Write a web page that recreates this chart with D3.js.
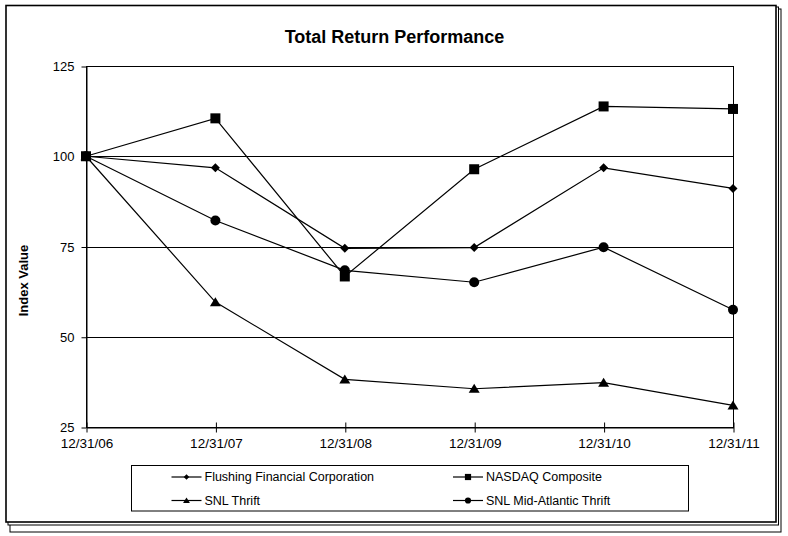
<!DOCTYPE html>
<html>
<head>
<meta charset="utf-8">
<script src="https://cdn.jsdelivr.net/npm/d3@7"></script>
<style>
  html, body { margin: 0; padding: 0; background: #fff; }
  svg { display: block; }
  text { font-family: "Liberation Sans", Arial, sans-serif; fill: #000; }
</style>
</head>
<body>
<svg id="chart" width="788" height="536"></svg>
<script>
const dates = ["12/31/06", "12/31/07", "12/31/08", "12/31/09", "12/31/10", "12/31/11"];
const flushing = [100, 96.8, 74.5, 74.7, 96.8, 91.1];
const nasdaq = [100, 110.5, 66.7, 96.4, 113.8, 113.1];
const snlThrift = [100, 59.6, 38.2, 35.6, 37.3, 31.0];
const snlMidAtlantic = [100, 82.2, 68.4, 65.1, 74.8, 57.5];
const yTicks = [25, 50, 75, 100, 125];
const seriesNames = ["Flushing Financial Corporation", "NASDAQ Composite", "SNL Thrift", "SNL Mid-Atlantic Thrift"];
const seriesMarkers = ["diamond", "square", "triangle", "circle"];
const title = "Total Return Performance";
const yTitle = "Index Value";

const seriesValues = [flushing, nasdaq, snlThrift, snlMidAtlantic];

const svg = d3.select("#chart");

// stacked frames (back to front)
[[10, 9, 781, 532], [8, 7, 778.5, 525], [6, 5.5, 776, 522]].forEach((f, i) => {
  svg.append("rect")
    .attr("x", f[0]).attr("y", f[1])
    .attr("width", f[2] - f[0]).attr("height", f[3] - f[1])
    .attr("fill", "#fff").attr("stroke", "#000")
    .attr("stroke-width", i === 2 ? 1.6 : 1);
});

const L = 86, R = 733, T = 66, B = 427;
const x = d3.scalePoint().domain(dates).range([L, R]).padding(0);
const y = d3.scaleLinear().domain([25, 125]).range([B, T]);

// title
svg.append("text")
  .attr("x", 394.5).attr("y", 43)
  .attr("text-anchor", "middle")
  .style("font-weight", "bold").style("font-size", "18px")
  .text(title);

// gridlines
svg.append("g").selectAll("line")
  .data(yTicks.filter(d => d !== 25 && d !== 125))
  .join("line")
  .attr("x1", L).attr("x2", R)
  .attr("y1", d => Math.round(y(d)) + 0.5).attr("y2", d => Math.round(y(d)) + 0.5)
  .attr("stroke", "#000").attr("stroke-width", 1);

// plot frame (top, right)
svg.append("rect")
  .attr("x", L + 0.5).attr("y", T + 0.5)
  .attr("width", R - L).attr("height", B - T)
  .attr("fill", "none").attr("stroke", "#000").attr("stroke-width", 1);

// y axis
const yAxis = d3.axisLeft(y).tickValues(yTicks).tickSizeInner(5).tickSizeOuter(0).tickPadding(7);
const gy = svg.append("g").attr("transform", `translate(${L + 0.5},0.5)`).call(yAxis);
gy.select(".domain").attr("stroke", "#000");
gy.selectAll(".tick line").attr("stroke", "#000");
gy.selectAll(".tick text").style("font-size", "13px").style("font-family", "Liberation Sans, Arial, sans-serif").attr("fill", "#000");

// x axis
const xAxis = d3.axisBottom(x).tickSizeInner(5).tickSizeOuter(0).tickPadding(6);
const gx = svg.append("g").attr("transform", `translate(0.5,${B + 0.5})`).call(xAxis);
gx.select(".domain").attr("stroke", "#000");
gx.selectAll(".tick line").attr("stroke", "#000").attr("y1", -5).attr("y2", 5);
gx.selectAll(".tick text").style("font-size", "13.5px").style("font-family", "Liberation Sans, Arial, sans-serif").attr("fill", "#000");

// y title
svg.append("text")
  .attr("transform", "translate(28,280.5) rotate(-90)")
  .attr("text-anchor", "middle")
  .style("font-weight", "bold").style("font-size", "13px")
  .text(yTitle);

function markerPath(type, s) {
  if (type === "diamond") return d3.symbol(d3.symbolDiamond2 || d3.symbolSquare2, s)();
  return null;
}
function drawMarker(g, type, cx, cy, scale) {
  const k = scale || 1;
  if (type === "diamond") {
    const r = 4.5 * k;
    g.append("path").attr("d", `M${cx},${cy - r}L${cx + r},${cy}L${cx},${cy + r}L${cx - r},${cy}Z`).attr("fill", "#000");
  } else if (type === "square") {
    const h = 5 * k;
    g.append("rect").attr("x", cx - h).attr("y", cy - h).attr("width", 2 * h).attr("height", 2 * h).attr("fill", "#000");
  } else if (type === "triangle") {
    const w = 5.5 * k, ht = 9 * k;
    g.append("path").attr("d", `M${cx},${cy - ht * 0.55}L${cx + w},${cy + ht * 0.45}L${cx - w},${cy + ht * 0.45}Z`).attr("fill", "#000");
  } else if (type === "circle") {
    g.append("circle").attr("cx", cx).attr("cy", cy).attr("r", 5 * k).attr("fill", "#000");
  }
}

const line = d3.line().x((d, i) => x(dates[i])).y(d => y(d));
const plot = svg.append("g");
seriesValues.forEach((vals, si) => {
  plot.append("path").datum(vals).attr("d", line)
    .attr("fill", "none").attr("stroke", "#000").attr("stroke-width", 1.2);
});
seriesValues.forEach((vals, si) => {
  vals.forEach((v, i) => drawMarker(plot, seriesMarkers[si], x(dates[i]), y(v), 1));
});

// legend
const lg = svg.append("g");
lg.append("rect").attr("x", 131.5).attr("y", 465.5).attr("width", 557).attr("height", 45.5)
  .attr("fill", "#fff").attr("stroke", "#000").attr("stroke-width", 1);
const colX = [171.5, 453];
const rowY = [477, 500.5];
seriesNames.forEach((name, i) => {
  const cx0 = colX[i % 2], cy0 = rowY[Math.floor(i / 2)];
  lg.append("line").attr("x1", cx0).attr("x2", cx0 + 30).attr("y1", cy0).attr("y2", cy0)
    .attr("stroke", "#000").attr("stroke-width", 1.2);
  drawMarker(lg, seriesMarkers[i], cx0 + 15, cy0, 0.62);
  lg.append("text").attr("x", cx0 + 33).attr("y", cy0).attr("dy", "0.35em")
    .style("font-size", "12.5px").text(name);
});
</script>
</body>
</html>
